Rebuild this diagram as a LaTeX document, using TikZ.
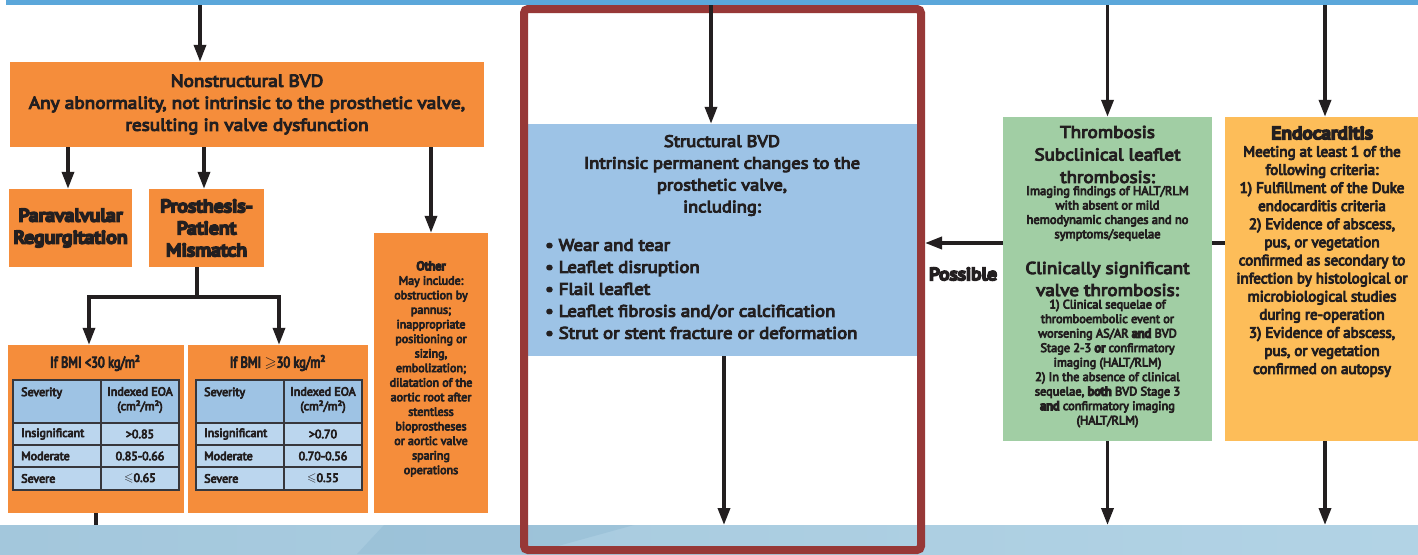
\documentclass[tikz,border=0pt]{standalone}
\usepackage{amssymb}
\usepackage{fontspec}
\setmainfont{PT Sans}
\newfontfamily\fW{PT Sans}[FakeStretch=1.12, FakeBold=6]
\newfontfamily\fN{PT Sans}[FakeBold=6]
\newfontfamily\fC{PT Sans}[FakeStretch=0.8, FakeBold=6]
\newfontfamily\fWB{PT Sans}[FakeStretch=1.12, FakeBold=12]
\newfontfamily\fNB{PT Sans}[FakeBold=12]
\usetikzlibrary{arrows.meta,calc}
\definecolor{cOrange}{RGB}{245,141,59}
\definecolor{cStruct}{RGB}{157,195,230}
\definecolor{cGreen}{RGB}{161,206,164}
\definecolor{cEndo}{RGB}{253,189,89}
\definecolor{cHead}{RGB}{158,195,228}
\definecolor{cRow}{RGB}{187,214,238}
\definecolor{cGrid}{RGB}{55,55,60}
\definecolor{cText}{RGB}{35,31,32}
\definecolor{cLine}{RGB}{35,31,32}
\definecolor{cTop}{RGB}{91,167,218}
\definecolor{cBotL}{RGB}{163,199,220}
\definecolor{cBotR}{RGB}{178,211,229}
\definecolor{cBand}{RGB}{150,189,213}
\definecolor{cFrame}{RGB}{151,56,55}
\newcommand\fsz[2]{\fontsize{#1}{#2}\selectfont}
\newcommand\bmitab[7]{%
  \fill[cHead] (#1,380) rectangle (#3,423);
  \fill[cRow] (#1,423) rectangle (#3,490);
  \draw[cGrid, line width=1.5pt] (#1,380) rectangle (#3,490)
     (#2,380) -- (#2,490) (#1,423) -- (#3,423) (#1,445) -- (#3,445) (#1,467) -- (#3,467);
  \node[txt, anchor=west, font=\fN\fsz{12}{14}] (#4sev) at (#1+8,393) {Severity};
  \node[txt, font=\fN\fsz{12}{14.5}] (#4eoa) at ({(#2+#3)/2},400) {Indexed EOA\\(cm²/m²)};
  \node[txt, anchor=west, font=\fN\fsz{12}{14}] (#4r1) at (#1+8,434) {Insignificant};
  \node[txt, anchor=west, font=\fN\fsz{12}{14}] (#4r2) at (#1+8,456) {Moderate};
  \node[txt, anchor=west, font=\fN\fsz{12}{14}] (#4r3) at (#1+8,478.5) {Severe};
  \node[txt, font=\fN\fsz{12}{14}] (#4v1) at ({(#2+#3)/2},434) {#5};
  \node[txt, font=\fN\fsz{12}{14}] (#4v2) at ({(#2+#3)/2},456) {#6};
  \node[txt, font=\fN\fsz{12}{14}] (#4v3) at ({(#2+#3)/2},478.5) {#7};
}
\tikzset{
  box/.style={inner sep=0pt, align=center, text=cText, draw=none},
  txt/.style={inner sep=0pt, align=center, text=cText},
  arr/.style={line width=3.5pt, draw=cLine, -{Triangle[length=17pt,width=12pt]}},
  plain/.style={line width=3.5pt, draw=cLine},
}
\begin{document}
\begin{tikzpicture}[x=1pt,y=-1pt]
\useasboundingbox (0,0) rectangle (1418,554);
\fill[white] (0,0) rectangle (1418,554);
% bars
\node[inner sep=0pt, outer sep=0pt, fill=cTop, minimum width=1412pt, minimum height=5pt, anchor=north west] (topbar) at (6,0) {};
\node[inner sep=0pt, outer sep=0pt, left color=cBotL, right color=cBotR, minimum width=1418pt, minimum height=29pt, anchor=north west] (botbar) at (0,525) {};
\fill[cBand, opacity=0.6] (384,525) -- (634,525) -- (529,554) -- (357,554) -- cycle;

% nonstructural branch
\node[box, fill=cOrange, minimum width=474pt, minimum height=85pt, font=\fW\fsz{17.2}{22}] (ns) at (247,104.5)
  {Nonstructural BVD\\Any abnormality, not intrinsic to the prosthetic valve,\\resulting in valve dysfunction};
\node[box, fill=cOrange, minimum width=123pt, minimum height=78pt, font=\fWB\fsz{17.6}{22}] (para) at (70.5,228)
  {Paravalvular\\Regurgitation};
\node[box, fill=cOrange, minimum width=115pt, minimum height=78pt, font=\fWB\fsz{17.6}{22}] (ppm) at (206.5,228)
  {Prosthesis-\\Patient\\Mismatch};
\node[box, fill=cOrange, minimum width=114pt, minimum height=280pt] (other) at (431,373) {};
\node[txt, font=\fN\fsz{12}{14.57}] (otherT) at (431,369)
  {{\fNB Other}\\May include:\\obstruction by\\pannus;\\inappropriate\\positioning or\\sizing,\\embolization;\\dilatation of the\\aortic root after\\stentless\\bioprostheses\\or aortic valve\\sparing\\operations};
\node[box, fill=cOrange, minimum width=176pt, minimum height=168pt] (bmiL) at (96,429) {};
\node[box, fill=cOrange, minimum width=180pt, minimum height=168pt] (bmiR) at (278,429) {};
\node[txt, font=\fC\fsz{15.5}{18}] (bmiLT) at (95,363) {If BMI <30 kg/m²};
\node[txt, font=\fC\fsz{15.5}{18}] (bmiRT) at (277.5,363) {If BMI $\geqslant$30 kg/m²};
\bmitab{13}{101}{179}{tl}{>0.85}{0.85-0.66}{$\leqslant$0.65}
\bmitab{196}{284}{362}{tr}{>0.70}{0.70-0.56}{$\leqslant$0.55}

% structural
\node[box, fill=cStruct, minimum width=389pt, minimum height=232pt] (struct) at (722.5,240) {};
\node[txt, font=\fW\fsz{16.5}{21.8}] (structT) at (722,175.5)
  {Structural BVD\\Intrinsic permanent changes to the\\prosthetic valve,\\including:};
\node[txt, align=left, anchor=west, font=\fW\fsz{16.8}{22}] (structL) at (545,289)
  {• Wear and tear\\• Leaflet disruption\\• Flail leaflet\\• Leaflet fibrosis and/or calcification\\• Strut or stent fracture or deformation};

% thrombosis
\node[box, fill=cGreen, minimum width=209pt, minimum height=324pt] (thr) at (1107.5,279) {};
\node[txt, font=\fW\fsz{17}{22.5}] (thrA) at (1107.5,154.5) {Thrombosis\\Subclinical leaflet\\thrombosis:};
\node[txt, font=\fN\fsz{12.5}{14.4}] (thrB) at (1107.5,213.5)
  {Imaging findings of HALT/RLM\\with absent or mild\\hemodynamic changes and no\\symptoms/sequelae};
\node[txt, font=\fW\fsz{17}{22}] (thrC) at (1107.5,279) {Clinically significant\\valve thrombosis:};
\node[txt, font=\fN\fsz{12.3}{14.5}] (thrD) at (1107.5,363.5)
  {1) Clinical sequelae of\\thromboembolic event or\\worsening AS/AR {\fNB and} BVD\\Stage 2-3 {\fNB or} confirmatory\\imaging (HALT/RLM)\\2) In the absence of clinical\\sequelae, {\fNB both} BVD Stage 3\\{\fNB and} confirmatory imaging\\(HALT/RLM)};

% endocarditis
\node[box, fill=cEndo, minimum width=193pt, minimum height=324pt] (endo) at (1321.5,279) {};
\node[txt, font=\fWB\fsz{17.2}{20}] (endoT) at (1322,133) {Endocarditis};
\node[txt, font=\fN\fsz{15}{18.1}] (endoB) at (1322,261.5)
  {Meeting at least 1 of the\\following criteria:\\1) Fulfillment of the Duke\\endocarditis criteria\\2) Evidence of abscess,\\pus, or vegetation\\confirmed as secondary to\\infection by histological or\\microbiological studies\\during re-operation\\3) Evidence of abscess,\\pus, or vegetation\\confirmed on autopsy};

% frame
\node[draw=cFrame, line width=8pt, rounded corners=4pt, inner sep=0pt, minimum width=397pt, minimum height=541pt] (frame) at (722.5,279.5) {};

% connectors
\coordinate (c1) at (200,0);
\draw[arr] (c1 |- topbar.south) -- (c1 |- ns.north);
\coordinate (c2) at (68,0);
\draw[arr] (c2 |- ns.south) -- (c2 |- para.north);
\coordinate (c3) at (204,0);
\draw[arr] (c3 |- ns.south) -- (c3 |- ppm.north);
\draw[arr] (ns.south -| other.north) -- (other.north);
\coordinate (j1) at (197,297);
\draw[plain] (ppm.south -| j1) -- (j1);
\draw[arr] (j1) -| ([xshift=-7pt]bmiL.north);
\draw[arr] (j1) -| ([xshift=1pt]bmiR.north);
\draw[plain] (bmiL.south) -- (bmiL.south |- botbar.north);
\coordinate (c4) at (711,0);
\draw[arr] (c4 |- frame.north) -- (c4 |- struct.north);
\coordinate (c5) at (724,0);
\draw[arr] (c5 |- struct.south) -- (c5 |- botbar.north);
\draw[arr] (thr.north |- topbar.south) -- (thr.north);
\coordinate (c6) at (1325,0);
\draw[arr] (c6 |- topbar.south) -- (c6 |- endo.north);
\draw[arr] (thr.south) -- (thr.south |- botbar.north);
\draw[arr] (c6 |- endo.south) -- (c6 |- botbar.north);
\coordinate (py) at (0,243);
\draw[arr] (thr.west |- py) -- (frame.east |- py);
\draw[plain] (endo.west |- py) -- (thr.east |- py);
\node[txt, font=\fWB\fsz{17.3}{20}] (poss) at (963,274) {Possible};
\end{tikzpicture}
\end{document}
